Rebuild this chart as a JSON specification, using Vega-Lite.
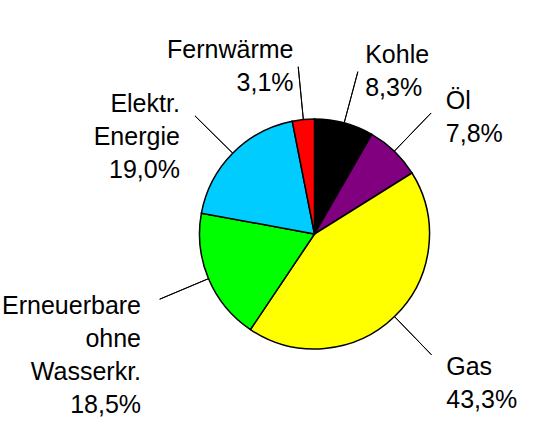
{
  "$schema": "https://vega.github.io/schema/vega-lite/v6.json",
  "width": 441,
  "height": 392,
  "autosize": {"type": "none"},
  "padding": {"left": 94, "top": 38, "right": 0, "bottom": 0},
  "background": "white",
  "config": {"view": {"stroke": null}},
  "data": {
    "values": [
      {"i": 1, "name": "Kohle", "value": 8.3, "label": "Kohle\n8,3%", "side": "right"},
      {"i": 2, "name": "Öl", "value": 7.8, "label": "Öl\n7,8%", "side": "right"},
      {"i": 3, "name": "Gas", "value": 43.3, "label": "Gas\n43,3%", "side": "right"},
      {"i": 4, "name": "Erneuerbare ohne Wasserkr.", "value": 18.5, "label": "Erneuerbare\nohne\nWasserkr.\n18,5%", "side": "left"},
      {"i": 5, "name": "Elektr. Energie", "value": 19.0, "label": "Elektr.\nEnergie\n19,0%", "side": "left"},
      {"i": 6, "name": "Fernwärme", "value": 3.1, "label": "Fernwärme\n3,1%", "side": "left"}
    ]
  },
  "transform": [
    {"stack": "value", "groupby": [], "sort": [{"field": "i", "order": "ascending"}], "as": ["v0", "v1"]},
    {"calculate": "(datum.v0 + datum.v1) / 2", "as": "mid"},
    {"calculate": "datum.mid + 0.01", "as": "mid2"}
  ],
  "layer": [
    {
      "mark": {"type": "arc", "outerRadius": 115, "stroke": "black", "strokeWidth": 1.5},
      "encoding": {
        "theta": {"field": "v0", "type": "quantitative", "scale": {"domain": [0, 100]}},
        "theta2": {"field": "v1"},
        "color": {
          "field": "name",
          "type": "nominal",
          "scale": {
            "domain": ["Kohle", "Öl", "Gas", "Erneuerbare ohne Wasserkr.", "Elektr. Energie", "Fernwärme"],
            "range": ["#000000", "#800080", "#FFFF00", "#00FF00", "#00CCFF", "#FF0000"]
          },
          "legend": null
        }
      }
    },
    {
      "mark": {"type": "arc", "innerRadius": 115, "outerRadius": 168, "stroke": "black", "strokeWidth": 1, "fill": "transparent"},
      "encoding": {
        "theta": {"field": "mid", "type": "quantitative", "scale": {"domain": [0, 100]}},
        "theta2": {"field": "mid2"}
      }
    },
    {
      "transform": [{"filter": "datum.side == 'right'"}],
      "mark": {"type": "text", "radius": 185, "align": "left", "baseline": "middle", "fontSize": 25, "font": "Liberation Sans", "lineBreak": "\n", "lineHeight": 33, "dx": 3, "color": "black"},
      "encoding": {
        "theta": {"field": "mid", "type": "quantitative", "scale": {"domain": [0, 100]}},
        "text": {"field": "label"}
      }
    },
    {
      "transform": [{"filter": "datum.side == 'left'"}],
      "mark": {"type": "text", "radius": 185, "align": "right", "baseline": "middle", "fontSize": 25, "font": "Liberation Sans", "lineBreak": "\n", "lineHeight": 33, "dx": -3, "color": "black"},
      "encoding": {
        "theta": {"field": "mid", "type": "quantitative", "scale": {"domain": [0, 100]}},
        "text": {"field": "label"}
      }
    }
  ]
}
